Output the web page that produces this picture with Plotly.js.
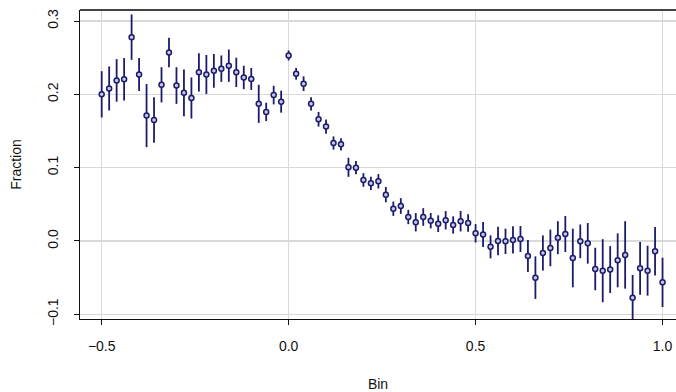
<!DOCTYPE html>
<html>
<head>
<meta charset="utf-8">
<script src="https://cdn.plot.ly/plotly-3.0.1.min.js"></script>
<style>html,body{margin:0;padding:0;background:#fff;}#chart{width:676px;height:392px;}</style>
</head>
<body>
<div id="chart"></div>
<script>
const bins = [-0.50,-0.48,-0.46,-0.44,-0.42,-0.40,-0.38,-0.36,-0.34,-0.32,-0.30,-0.28,-0.26,-0.24,-0.22,-0.20,-0.18,-0.16,-0.14,-0.12,-0.10,-0.08,-0.06,-0.04,-0.02,
  0.00,0.02,0.04,0.06,0.08,0.10,0.12,0.14,0.16,0.18,0.20,0.22,0.24,0.26,0.28,0.30,0.32,0.34,0.36,0.38,0.40,0.42,0.44,0.46,0.48,
  0.50,0.52,0.54,0.56,0.58,0.60,0.62,0.64,0.66,0.68,0.70,0.72,0.74,0.76,0.78,0.80,0.82,0.84,0.86,0.88,0.90,0.92,0.94,0.96,0.98,1.00];
const fraction = [0.200,0.208,0.219,0.2205,0.278,0.227,0.171,0.165,0.213,0.257,0.212,0.202,0.195,0.230,0.227,0.232,0.235,0.239,0.230,0.223,0.221,0.187,0.176,0.199,0.190,
  0.253,0.228,0.2145,0.187,0.166,0.156,0.1336,0.1318,0.1005,0.100,0.0832,0.0786,0.0814,0.0632,0.044,0.0477,0.0327,0.0255,0.0327,0.0277,0.0236,0.0282,0.0218,0.0270,0.0245,
  0.0105,0.0088,-0.008,0.000,-0.0005,0.0014,0.0027,-0.0205,-0.050,-0.0164,-0.0095,0.0045,0.0095,-0.0232,-0.0005,-0.0032,-0.0382,-0.0405,-0.039,-0.0264,-0.019,-0.0773,-0.0373,-0.0405,-0.014,-0.0564];
const errors = [0.0316,0.030,0.029,0.029,0.031,0.0225,0.043,0.031,0.024,0.020,0.025,0.032,0.028,0.026,0.0266,0.023,0.018,0.022,0.020,0.016,0.015,0.026,0.0125,0.0127,0.015,
  0.0068,0.008,0.010,0.009,0.010,0.0098,0.009,0.0084,0.013,0.009,0.0093,0.009,0.0098,0.0105,0.0098,0.0107,0.0098,0.0125,0.012,0.0105,0.0114,0.0125,0.0118,0.014,0.012,
  0.0125,0.017,0.0157,0.0195,0.0173,0.0186,0.0177,0.0218,0.029,0.024,0.025,0.0225,0.0245,0.040,0.023,0.0277,0.029,0.043,0.032,0.0368,0.046,0.031,0.036,0.034,0.033,0.0336];
const xTicks = [-0.5, 0.0, 0.5, 1.0];
const xTickLabels = ["\u22120.5", "0.0", "0.5", "1.0"];
const yTicks = [-0.1, 0.0, 0.1, 0.2, 0.3];
const yTickLabels = ["\u22120.1", "0.0", "0.1", "0.2", "0.3"];

const navy = '#1b1b6b';
const trace = {
  x: bins, y: fraction, type: 'scatter', mode: 'markers',
  marker: {symbol: 'circle', size: 5, color: '#c8c8e4', line: {color: navy, width: 1.5}},
  error_y: {type: 'data', array: errors, visible: true, color: navy, thickness: 1.8, width: 0},
  hoverinfo: 'x+y'
};
const font = {family: '"Liberation Sans", Arial, sans-serif', size: 14, color: '#111'};
const layout = {
  width: 676, height: 392,
  margin: {l: 80, r: 0, t: 10, b: 73},
  paper_bgcolor: '#fff', plot_bgcolor: '#fff',
  font: font, showlegend: false,
  xaxis: {
    range: [-0.558, 1.036], tickmode: 'array', tickvals: xTicks, ticktext: xTickLabels,
    showgrid: true, gridcolor: '#d9d9d9', gridwidth: 1.5, zeroline: false,
    showline: true, linecolor: '#111', linewidth: 1.2,
    ticks: 'outside', ticklen: 5, tickcolor: '#111', tickwidth: 1,
    ticklabelstandoff: 9,
    title: {text: 'Bin', font: font, standoff: 26}
  },
  yaxis: {
    range: [-0.1064, 0.315], tickmode: 'array', tickvals: yTicks, ticktext: yTickLabels,
    showgrid: true, gridcolor: '#d9d9d9', gridwidth: 1.5, zeroline: false,
    showline: true, linecolor: '#111', linewidth: 1.2,
    ticks: 'outside', ticklen: 5, tickcolor: '#111', tickwidth: 1,
    tickangle: -90, ticklabelstandoff: 10,
    title: {text: 'Fraction', font: font, standoff: 20}
  },
  shapes: [{type: 'line', xref: 'paper', yref: 'paper', x0: 0, x1: 1, y0: 1, y1: 1,
    line: {color: '#444', width: 2}}]
};
Plotly.newPlot('chart', [trace], layout, {staticPlot: true, displayModeBar: false});
</script>
</body>
</html>
